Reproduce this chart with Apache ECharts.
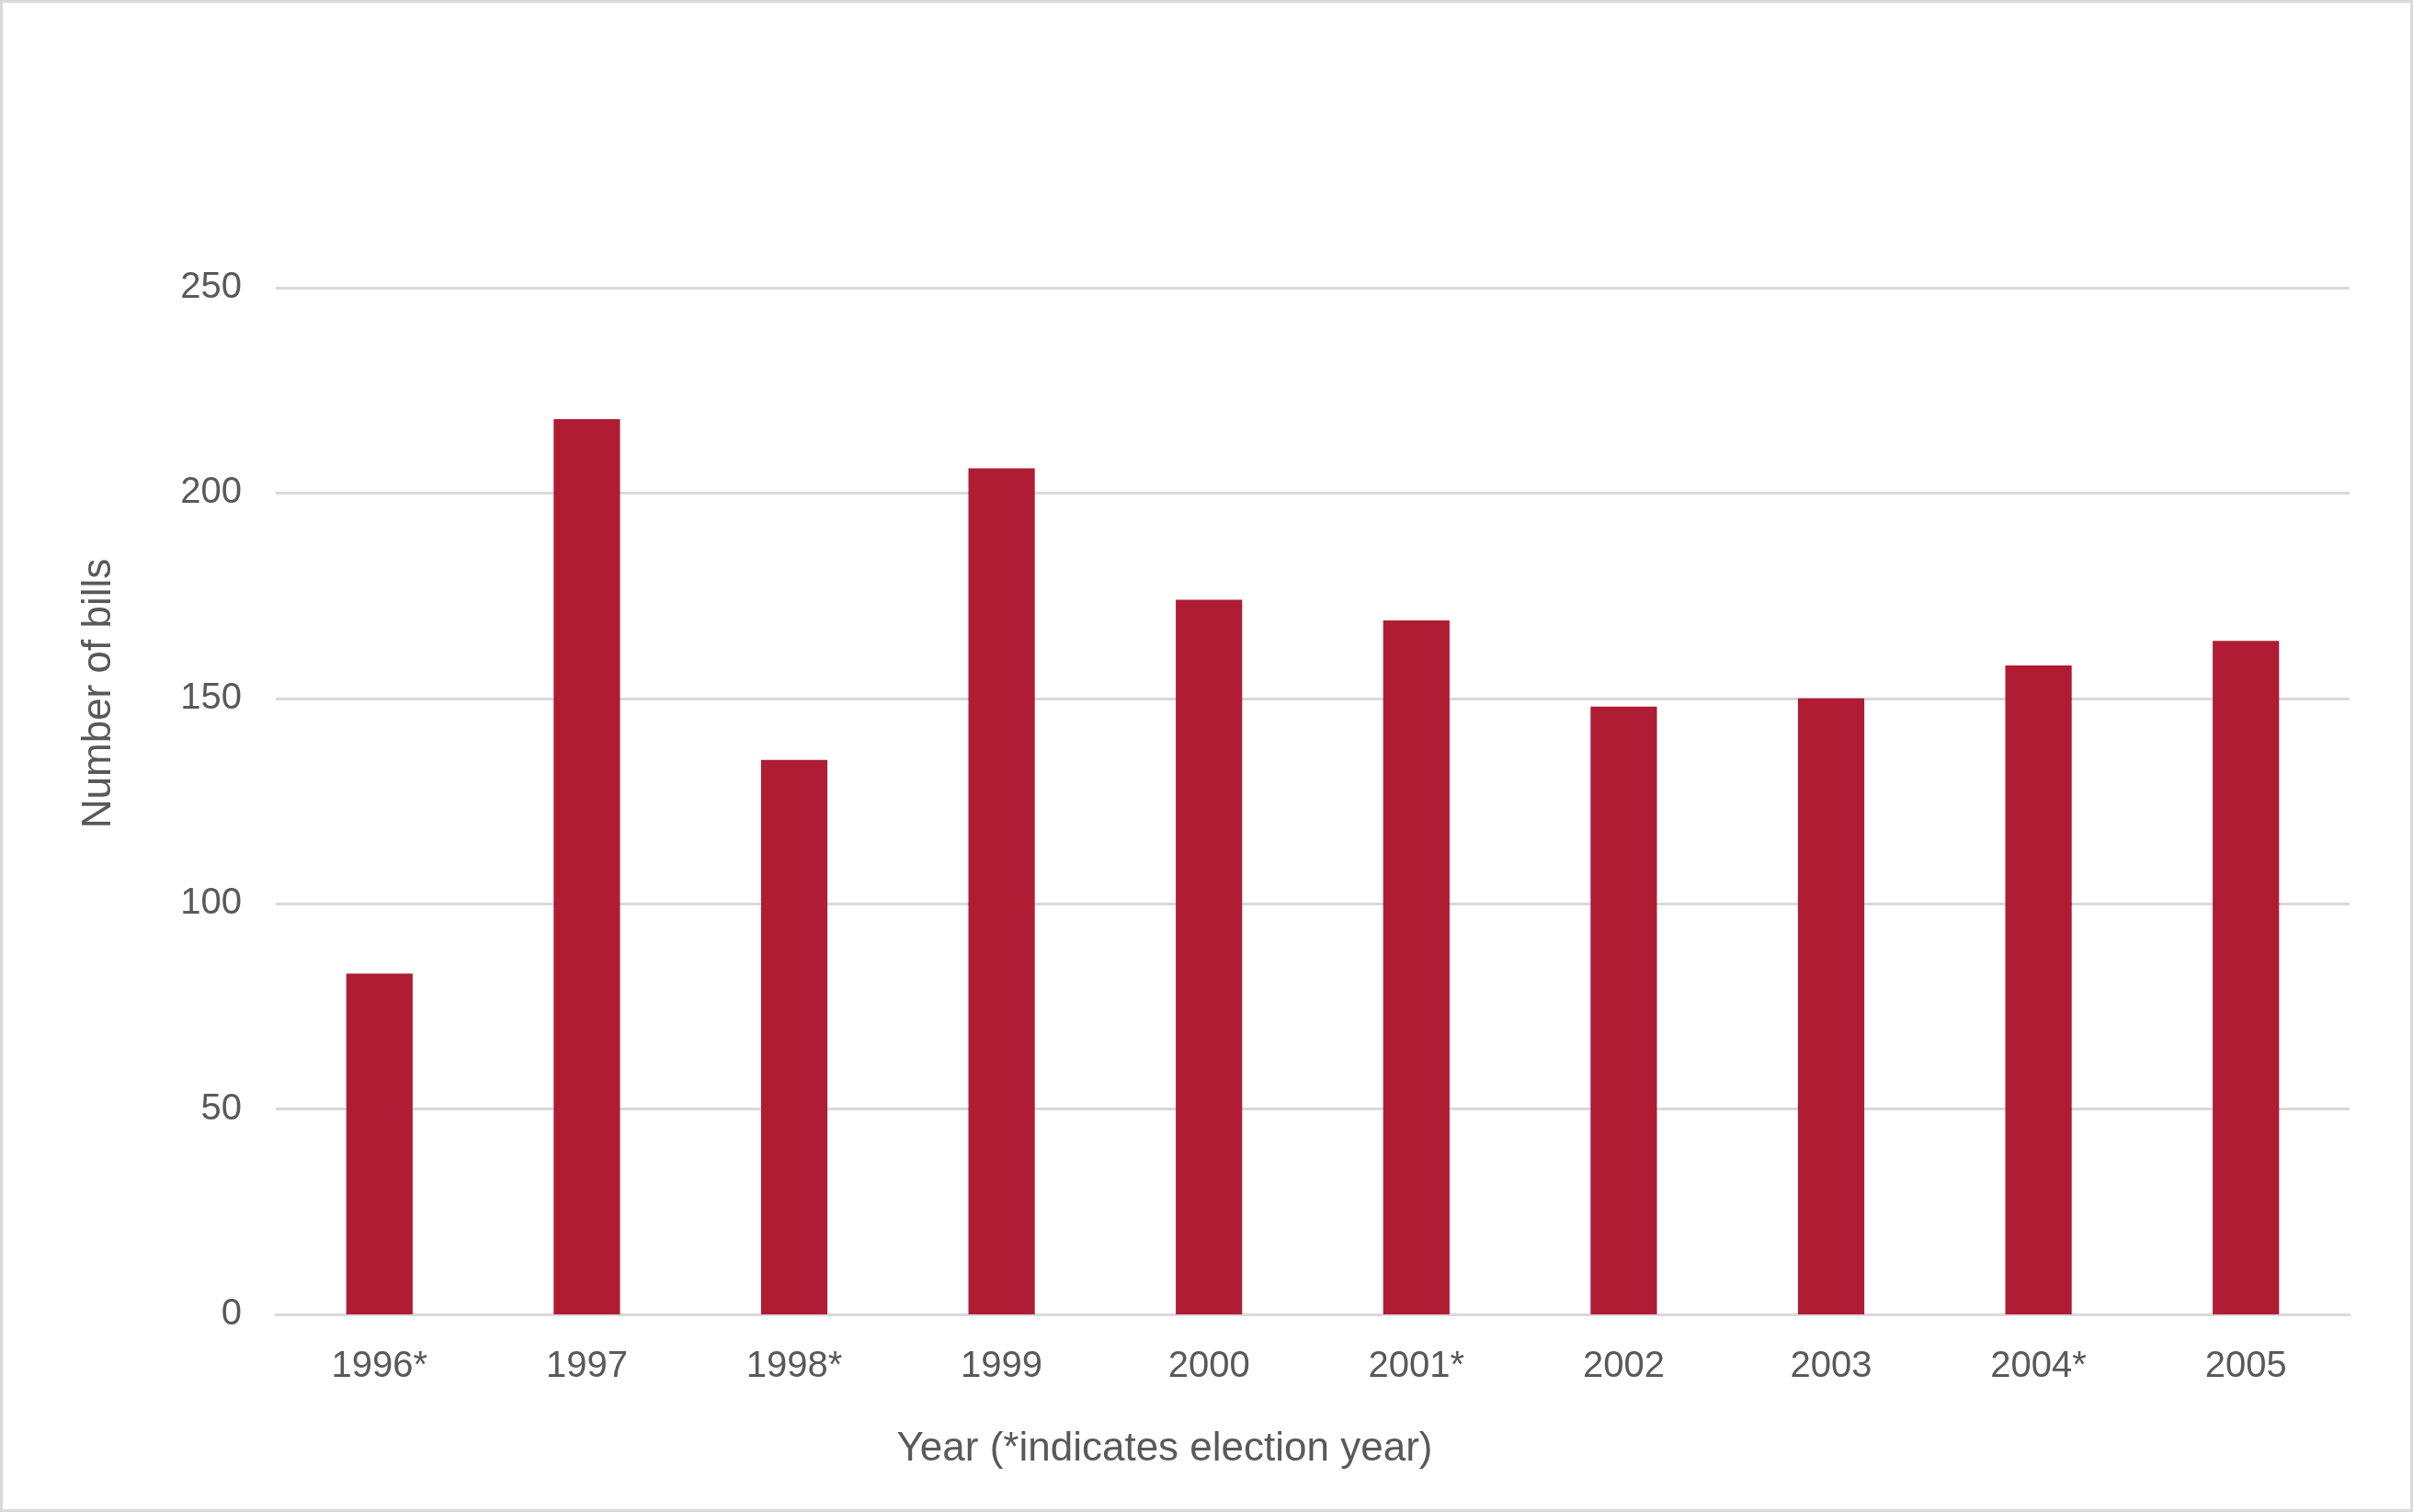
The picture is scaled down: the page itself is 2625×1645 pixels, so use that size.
<!DOCTYPE html>
<html lang="en">
<head>
    <meta charset="UTF-8">
    <title>Number of bills by year</title>
    <script src="https://cdn.jsdelivr.net/npm/echarts@6/dist/echarts.min.js"></script>
    <style>
        html, body { margin: 0; padding: 0; background: #fff; }
        #frame { position: absolute; left: 0; top: 0; width: 2625px; height: 1645px; box-sizing: border-box;
                 border: 3px solid #d9d9d9; pointer-events: none; }
    </style>
</head>
<body>
<div id="mybox" style="position:absolute;left:0;top:0;width:2625px;height:1645px;"></div>
<div id="frame"></div>
<script>
    // data
    var years = ['1996*', '1997', '1998*', '1999', '2000', '2001*', '2002', '2003', '2004*', '2005'];
    var bills = [83, 218, 135, 206, 174, 169, 148, 150, 158, 164];

    var textColor = '#595959';
    var lineColor = '#d9d9d9';
    var font = 'Liberation Sans, Arial, sans-serif';

    var mychart = echarts.init(document.getElementById('mybox'));
    mychart.setOption({
        animation: false,
        grid: { left: 300, right: 69, top: 313, bottom: 215 },
        xAxis: {
            type: 'category',
            data: years,
            name: 'Year (*indicates election year)',
            nameLocation: 'middle',
            nameGap: 125,
            // the title sits left of the plot centre, as in the original
            nameTextStyle: { color: textColor, fontSize: 44, fontFamily: font, verticalAlign: 'top',
                             padding: [0, 322, 0, 0] },
            axisLine: { lineStyle: { color: lineColor, width: 3 } },
            axisTick: { show: false },
            axisLabel: { color: textColor, fontSize: 40, fontFamily: font, margin: 37 }
        },
        yAxis: {
            type: 'value',
            min: 0,
            max: 250,
            interval: 50,
            name: 'Number of bills',
            nameLocation: 'middle',
            nameGap: 170,
            nameTextStyle: { color: textColor, fontSize: 44, fontFamily: font,
                             padding: [0, 0, 0, 234] },
            axisLine: { show: false },
            axisTick: { show: false },
            axisLabel: { color: textColor, fontSize: 40, fontFamily: font, margin: 37 },
            splitLine: { lineStyle: { color: lineColor, width: 3 } }
        },
        series: [{
            name: 'Number of bills',
            type: 'bar',
            data: bills,
            barWidth: '32%',
            itemStyle: { color: '#af1c34' }
        }]
    });
</script>
</body>
</html>
